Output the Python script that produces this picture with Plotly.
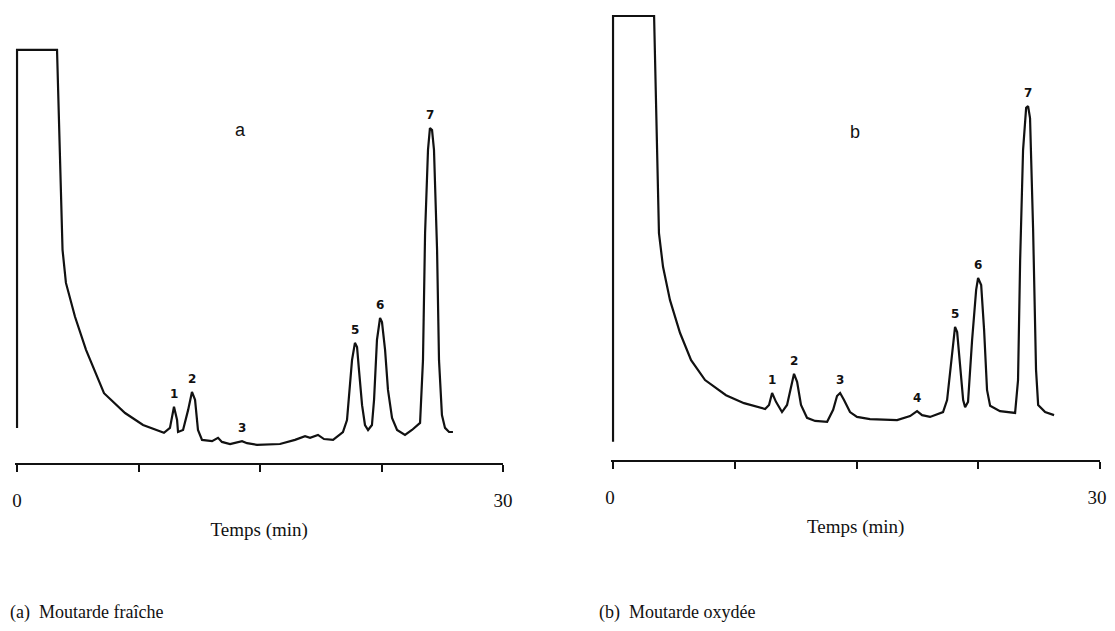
import plotly.graph_objects as go

# --- chromatogram (a): moutarde fraiche ---
time_a = [0.0, 0.0, 2.47, 2.65, 2.81, 3.02, 3.58, 4.26, 5.37, 6.67, 7.78, 9.07,
          9.44, 9.69, 9.88, 9.94, 10.25, 10.56, 10.80, 10.99, 11.17, 11.42, 12.04,
          12.41, 12.65, 13.15, 13.58, 13.89, 14.20, 14.81, 16.23, 17.16, 17.78,
          18.09, 18.58, 18.95, 19.51, 20.12, 20.37, 20.49, 20.68, 20.86, 20.99,
          21.11, 21.30, 21.48, 21.67, 21.91, 22.04, 22.22, 22.41, 22.53, 22.72,
          22.90, 23.15, 23.46, 23.95, 24.38, 24.75, 24.88, 25.06, 25.19, 25.37,
          25.49, 25.62, 25.74, 25.93, 26.05, 26.23, 26.42, 26.67, 26.91]
signal_a = [8.5, 100, 100, 75.8, 51.6, 43.6, 35.4, 27.4, 16.9, 12.1, 9.2, 7.3,
            8.5, 13.6, 10.4, 7.5, 8.0, 12.8, 17.2, 15.3, 8.0, 5.6, 5.3,
            6.1, 5.1, 4.6, 5.1, 5.3, 4.8, 4.4, 4.6, 5.6, 6.5,
            6.1, 6.8, 5.8, 5.6, 7.5, 10.4, 15.3, 24.9, 29.1, 28.1,
            22.5, 14.0, 9.2, 8.0, 9.2, 15.3, 29.8, 35.1, 34.1, 27.4,
            17.7, 10.9, 8.0, 6.8, 8.0, 9.4, 9.7, 24.9, 55.7, 75.8,
            81.1, 80.6, 75.8, 51.6, 24.9, 11.6, 8.5, 7.5, 7.5]
peaks_a = ["1", "2", "3", "5", "6", "7"]
peak_time_a = [9.69, 10.80, 13.89, 20.86, 22.41, 25.49]
peak_height_a = [13.6, 17.2, 5.3, 29.1, 35.1, 81.1]

# --- chromatogram (b): moutarde oxydee ---
time_b = [0.0, 0.0, 2.53, 2.65, 2.83, 3.08, 3.51, 4.13, 4.81, 5.67, 6.96, 8.07,
          9.37, 9.61, 9.80, 10.04, 10.41, 10.72, 10.97, 11.15, 11.34, 11.58,
          11.95, 12.45, 13.19, 13.56, 13.80, 13.99, 14.23, 14.60, 15.03, 15.83,
          17.50, 18.30, 18.73, 19.04, 19.53, 20.33, 20.58, 20.83, 21.01, 21.07,
          21.20, 21.38, 21.57, 21.69, 21.87, 22.12, 22.37, 22.49, 22.68, 22.86,
          23.04, 23.23, 23.84, 24.77, 24.95, 25.08, 25.26, 25.45, 25.57, 25.69,
          25.88, 26.06, 26.19, 26.62, 27.17]
signal_b = [4.1, 100, 100, 81.1, 51.1, 43.5, 36.0, 28.6, 22.5, 18.0, 14.6, 12.8,
            11.5, 12.4, 15.1, 13.1, 10.8, 12.4, 16.9, 19.4, 17.6, 12.4,
            9.5, 8.8, 8.6, 11.3, 14.4, 15.1, 13.5, 10.8, 9.7, 9.2,
            9.0, 9.9, 11.0, 10.1, 9.7, 10.8, 13.5, 22.5, 29.3, 30.0,
            28.8, 20.3, 13.5, 11.9, 13.1, 27.0, 38.3, 41.0, 39.4, 29.3,
            15.8, 12.2, 11.0, 10.6, 18.0, 45.0, 69.8, 79.3, 79.7, 77.0,
            51.8, 20.3, 12.4, 10.8, 10.1]
peaks_b = ["1", "2", "3", "4", "5", "6", "7"]
peak_time_b = [9.80, 11.15, 13.99, 18.73, 21.07, 22.49, 25.57]
peak_height_b = [15.1, 19.4, 15.1, 11.0, 30.0, 41.0, 79.7]

tick_vals = [0, 7.5, 15, 22.5, 30]
tick_text = ["0", "", "", "", "30"]

serif = "Liberation Serif, Times New Roman, serif"
sans = "DejaVu Sans, Arial, sans-serif"
ink = "#111"

fig = go.Figure()
fig.add_trace(go.Scatter(x=time_a, y=signal_a, mode="lines", xaxis="x", yaxis="y",
                         line=dict(color=ink, width=2.2), showlegend=False))
fig.add_trace(go.Scatter(x=time_b, y=signal_b, mode="lines", xaxis="x2", yaxis="y2",
                         line=dict(color=ink, width=2.2), showlegend=False))

annotations = []
peak_font = dict(family=sans, size=12, color=ink, weight="bold")
for lab, t, h in zip(peaks_a, peak_time_a, peak_height_a):
    annotations.append(dict(x=t, y=h, xref="x", yref="y", text=lab, showarrow=False,
                            yanchor="bottom", yshift=4, font=peak_font))
for lab, t, h in zip(peaks_b, peak_time_b, peak_height_b):
    annotations.append(dict(x=t, y=h, xref="x2", yref="y2", text=lab, showarrow=False,
                            yanchor="bottom", yshift=4, font=peak_font))
annotations.append(dict(x=13.77, y=80.6, xref="x", yref="y", text="a", showarrow=False,
                        font=dict(family="Liberation Sans, Arial", size=18, color=ink)))
annotations.append(dict(x=14.91, y=73.9, xref="x2", yref="y2", text="b", showarrow=False,
                        font=dict(family="Liberation Sans, Arial", size=18, color=ink)))
annotations.append(dict(x=8 / 1115, y=1 - 612 / 631, xref="paper", yref="paper",
                        xanchor="left", yanchor="middle",
                        text="(a)  Moutarde fraîche", showarrow=False,
                        font=dict(family=serif, size=18, color=ink)))
annotations.append(dict(x=597 / 1115, y=1 - 612 / 631, xref="paper", yref="paper",
                        xanchor="left", yanchor="middle",
                        text="(b)  Moutarde oxydée", showarrow=False,
                        font=dict(family=serif, size=18, color=ink)))

xaxis_style = dict(range=[-0.1, 30], tickvals=tick_vals, ticktext=tick_text, ticks="outside",
                   ticklen=7, tickwidth=2, tickcolor=ink, showline=True, linecolor=ink,
                   linewidth=2, showgrid=False, zeroline=False, ticklabelstandoff=12,
                   automargin=False,
                   tickfont=dict(family=serif, size=19, color=ink),
                   title=dict(text="Temps (min)", standoff=13,
                              font=dict(family=serif, size=19, color=ink)))
yaxis_style = dict(range=[0, 102], visible=False, showgrid=False, zeroline=False,
                   automargin=False)

fig.update_layout(
    width=1115, height=631,
    margin=dict(l=0, r=0, t=0, b=0, autoexpand=False),
    paper_bgcolor="white", plot_bgcolor="white",
    xaxis=dict(domain=[15.4 / 1115, 503 / 1115], anchor="y", **xaxis_style),
    yaxis=dict(domain=[1 - 463 / 631, 1 - 41.7 / 631], anchor="x", **yaxis_style),
    xaxis2=dict(domain=[611.4 / 1115, 1100 / 1115], anchor="y2", ticklabelshift=-3, **xaxis_style),
    yaxis2=dict(domain=[1 - 460 / 631, 1 - 7.1 / 631], anchor="x2", **yaxis_style),
    annotations=annotations,
)

# drop the browser's default page margin so the figure sits at the top-left corner
fig.write_html("out.html", config={"displayModeBar": False},
               post_script="document.body.style.margin='0px';")
